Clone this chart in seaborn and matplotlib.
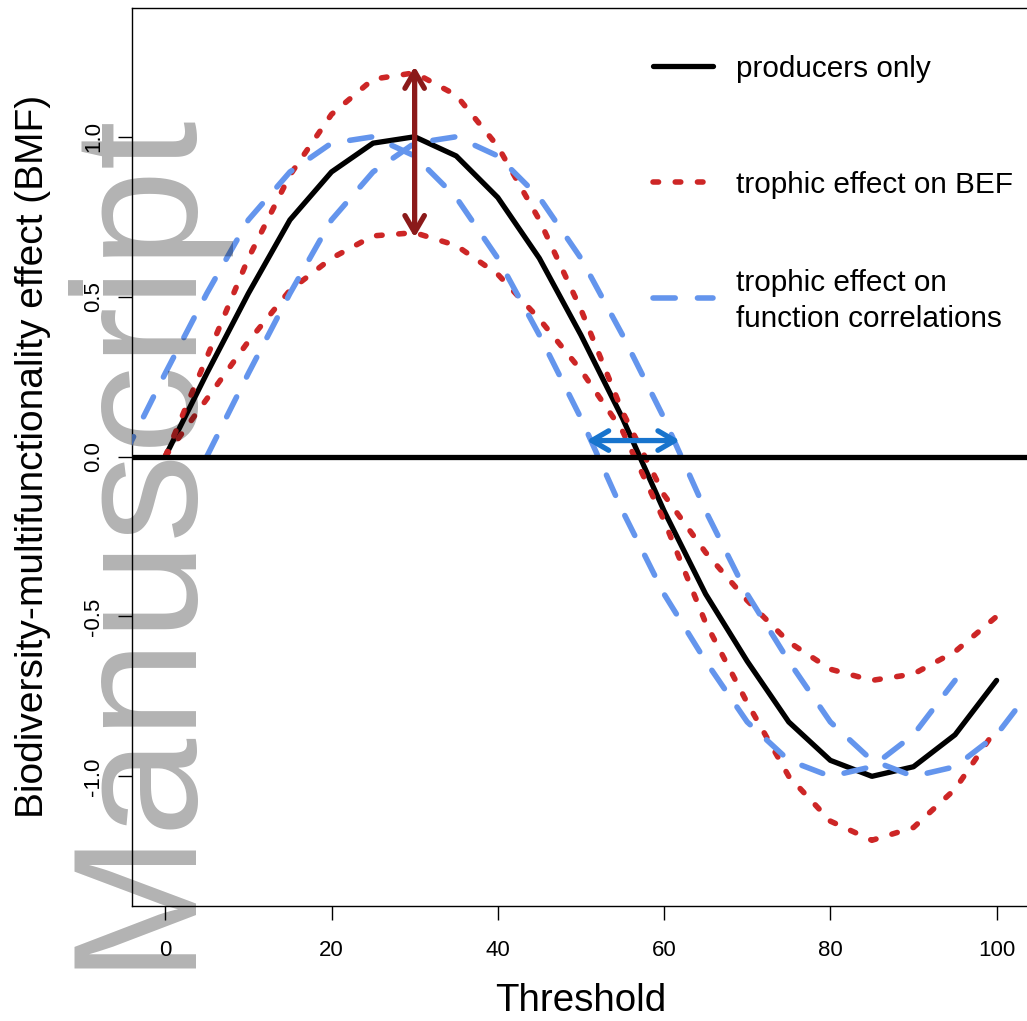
import matplotlib
matplotlib.use("Agg")
import matplotlib.pyplot as plt
from matplotlib.lines import Line2D
import seaborn as sns

# ---------------- data ----------------
threshold = [0, 5, 10, 15, 20, 25, 30, 35, 40, 45, 50, 55, 60, 65, 70, 75, 80, 85, 90, 95, 100]
producers_only = [0.0, 0.26, 0.51, 0.74, 0.89, 0.98, 1.0, 0.94, 0.81, 0.62, 0.38, 0.12,
                  -0.17, -0.43, -0.64, -0.83, -0.95, -1.0, -0.97, -0.87, -0.70]
bef_upper = [0.0, 0.31, 0.62, 0.88, 1.07, 1.18, 1.2, 1.13, 0.97, 0.74, 0.46, 0.14,
             -0.12, -0.30, -0.45, -0.58, -0.665, -0.70, -0.68, -0.61, -0.50]
bef_lower = [0.0, 0.18, 0.36, 0.52, 0.62, 0.69, 0.70, 0.66, 0.57, 0.43, 0.27, 0.08,
             -0.20, -0.52, -0.77, -1.0, -1.14, -1.20, -1.16, -1.04, -0.85]
corr_early_threshold = [-5, 0, 5, 10, 15, 20, 25, 30, 35, 40, 45, 50, 55, 60, 65, 70, 75, 80, 85, 90, 95]
corr_late_threshold = [5, 10, 15, 20, 25, 30, 35, 40, 45, 50, 55, 60, 65, 70, 75, 80, 85, 90, 95, 100, 105]
corr_values = [0.0, 0.26, 0.51, 0.74, 0.89, 0.98, 1.0, 0.94, 0.81, 0.62, 0.38, 0.12,
               -0.17, -0.43, -0.64, -0.83, -0.95, -1.0, -0.97, -0.87, -0.70]

bef_arrow_x = [30, 30]
bef_arrow_y = [0.685, 1.22]
corr_arrow_x = [50.7, 61.9]
corr_arrow_y = [0.05, 0.05]

x_ticks = [0, 20, 40, 60, 80, 100]
y_ticks = [-1.0, -0.5, 0.0, 0.5, 1.0]
y_tick_labels = ["-1.0", "-0.5", "0.0", "0.5", "1.0"]
legend_labels = ["producers only", "trophic effect on BEF",
                 "trophic effect on\nfunction correlations"]

# ---------------- style ----------------
sns.set_theme(style="white")
plt.rcParams["font.family"] = ["Liberation Sans", "DejaVu Sans"]

BLACK = "#000000"
RED = "#CD2626"
BLUE = "#6495ED"
DARKRED = "#8B1A1A"
ARROWBLUE = "#1874CD"
LW = 4.0

fig = plt.figure(figsize=(10.27, 10.21), dpi=100)
fig.patch.set_facecolor("white")
ax = fig.add_axes([0.1285, 0.1131, 0.8743, 0.8795])
ax.set_facecolor("white")

common = dict(ax=ax, sort=False, estimator=None, legend=False)

sns.lineplot(x=threshold, y=producers_only, color=BLACK, lw=3.8,
             solid_capstyle="round", solid_joinstyle="round", zorder=3, **common)
for ys in (bef_upper, bef_lower):
    sns.lineplot(x=threshold, y=ys, color=RED, lw=LW, linestyle=(0, (1, 3)),
                 dash_capstyle="round", zorder=4, **common)
for xs in (corr_early_threshold, corr_late_threshold):
    sns.lineplot(x=xs, y=corr_values, color=BLUE, lw=LW, linestyle=(0, (4, 4)),
                 dash_capstyle="round", zorder=5, **common)

ax.axhline(0, color=BLACK, lw=3.8, zorder=6)

arrow_style = "<->,head_length=0.6,head_width=0.35"
ax.annotate("", xy=(bef_arrow_x[1], bef_arrow_y[1]), xytext=(bef_arrow_x[0], bef_arrow_y[0]),
            arrowprops=dict(arrowstyle=arrow_style, color=DARKRED, lw=3.8,
                            shrinkA=0, shrinkB=0, mutation_scale=20), zorder=7)
ax.annotate("", xy=(corr_arrow_x[1], corr_arrow_y[1]), xytext=(corr_arrow_x[0], corr_arrow_y[0]),
            arrowprops=dict(arrowstyle=arrow_style, color=ARROWBLUE, lw=3.8,
                            shrinkA=0, shrinkB=0, mutation_scale=20), zorder=7)

ax.set_xlim(-4, 104)
ax.set_ylim(-1.404, 1.404)
ax.set_xticks(x_ticks)
ax.set_xticklabels([str(v) for v in x_ticks])
ax.set_yticks(y_ticks)
ax.set_yticklabels(y_tick_labels)
ax.tick_params(axis="both", which="major", direction="out", length=10, width=1.0,
               color=BLACK, labelsize=16, labelcolor=BLACK, bottom=True, left=True)
ax.tick_params(axis="x", pad=15)
ax.tick_params(axis="y", pad=10)
for lab in ax.get_yticklabels():
    lab.set_rotation(90)
    lab.set_va("center")
    lab.set_ha("right")

for sp in ax.spines.values():
    sp.set_visible(True)
    sp.set_color(BLACK)
    sp.set_linewidth(1.0)
ax.grid(False)

ax.set_xlabel("Threshold", fontsize=27.7, labelpad=15.5, color=BLACK)
ax.set_ylabel("Biodiversity-multifunctionality effect (BMF)", fontsize=28, labelpad=23, color=BLACK)

# ---------------- legend (no frame) ----------------
W, H = 1027.0, 1021.0
leg_x0, leg_x1, leg_tx = 653 / W, 713 / W, 736 / W
leg_rows = [66, 182, 298]
leg_styles = [dict(color=BLACK, lw=3.8, solid_capstyle="round"),
              dict(color=RED, lw=LW, linestyle=(0, (1, 3)), dash_capstyle="round"),
              dict(color=BLUE, lw=LW, linestyle=(0, (4, 4)), dash_capstyle="round")]
for row, sty, lab in zip(leg_rows, leg_styles, legend_labels):
    yy = 1 - row / H
    fig.add_artist(Line2D([leg_x0, leg_x1], [yy, yy], transform=fig.transFigure, **sty))
    if "\n" in lab:
        fig.text(leg_tx, 1 - (row + 3) / H, lab, fontsize=21.4, ha="left", va="center",
                 linespacing=1.33, color=BLACK)
    else:
        fig.text(leg_tx, 1 - (row + 11) / H, lab, fontsize=21.4, ha="left",
                 va="baseline", color=BLACK)

# ---------------- watermark ----------------
fig.text(182 / W, 1 - 968 / H, "Manuscript", rotation=90, rotation_mode="anchor",
         ha="left", va="baseline", fontsize=127, color="black", alpha=0.3, zorder=20)

fig.savefig("out.png", dpi=100, facecolor="white")
